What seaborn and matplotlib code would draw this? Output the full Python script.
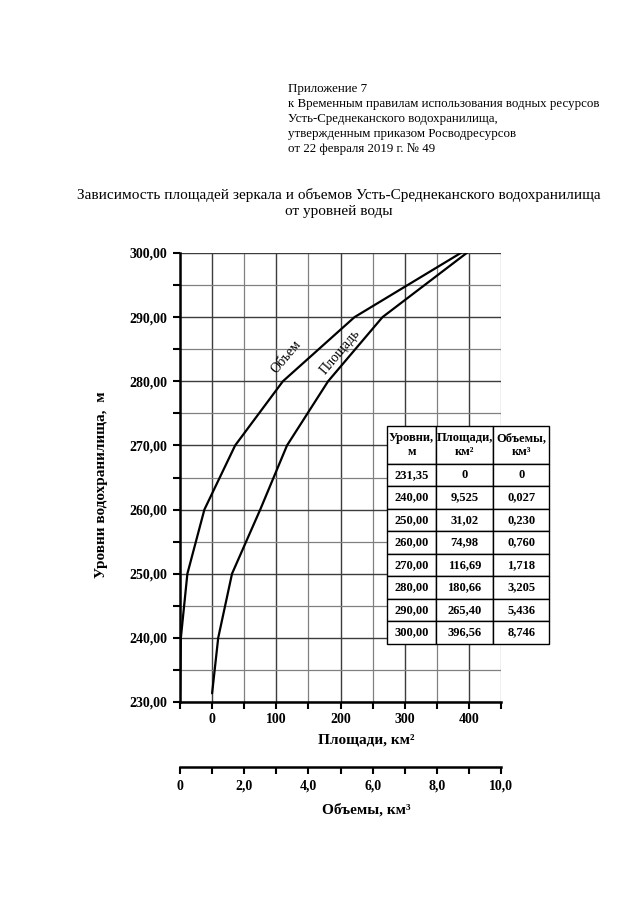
import numpy as np
import pandas as pd
import matplotlib
matplotlib.use('Agg')
import matplotlib.pyplot as plt
from matplotlib.ticker import MultipleLocator, FuncFormatter
import seaborn as sns

# ---- data ----
levels = [231.35, 240.00, 250.00, 260.00, 270.00, 280.00, 290.00, 300.00]
area = [0, 9.525, 31.02, 74.98, 116.69, 180.66, 265.40, 396.56]
volume = [0, 0.027, 0.230, 0.760, 1.718, 3.205, 5.436, 8.746]

level_txt = ['231,35', '240,00', '250,00', '260,00', '270,00', '280,00', '290,00', '300,00']
area_txt = ['0', '9,525', '31,02', '74,98', '116,69', '180,66', '265,40', '396,56']
volume_txt = ['0', '0,027', '0,230', '0,760', '1,718', '3,205', '5,436', '8,746']
col_labels = ['Уровни,\nм', 'Площади,\nкм²', 'Объемы,\nкм³']

df = pd.DataFrame({'level': levels, 'area': area, 'volume': volume})

sns.set_theme(style='white')
plt.rcParams['font.family'] = ['Liberation Serif', 'DejaVu Serif']
plt.rcParams['text.color'] = 'black'
plt.rcParams['axes.labelcolor'] = 'black'
plt.rcParams['xtick.color'] = 'black'
plt.rcParams['ytick.color'] = 'black'

fig = plt.figure(figsize=(6.4, 9.05), dpi=100)
ax = fig.add_axes([180 / 640, 203 / 905, 321 / 640, 449 / 905])

# ---- curves ----
sns.lineplot(data=df, x='area', y='level', ax=ax, sort=False, estimator=None,
             color='black', linewidth=1.6, zorder=3)
ax2 = ax.twiny()
sns.lineplot(data=df, x='volume', y='level', ax=ax2, sort=False, estimator=None,
             color='black', linewidth=1.6, zorder=3)

ax.set_xlim(-50, 450)
ax.set_ylim(230, 300)
ax2.set_xlim(0, 10)

# ---- area axis + grid ----
ax.xaxis.set_major_locator(MultipleLocator(100))
ax.xaxis.set_minor_locator(MultipleLocator(50))
ax.yaxis.set_major_locator(MultipleLocator(10))
ax.yaxis.set_minor_locator(MultipleLocator(5))
ax.yaxis.set_major_formatter(FuncFormatter(lambda v, p: f'{v:.2f}'.replace('.', ',')))
ax.grid(which='major', color='#3c3c3c', linewidth=1.0)
ax.grid(which='minor', color='#808080', linewidth=0.9)
ax.set_axisbelow(True)
ax.tick_params(which='both', direction='out', length=5, width=1.5, color='black',
               bottom=True, left=True)
ax.tick_params(axis='x', labelsize=10, pad=3)
ax.tick_params(axis='y', labelsize=10, pad=4)
for lab in ax.get_xticklabels() + ax.get_yticklabels():
    lab.set_fontweight('bold')
for s in ['top', 'right']:
    ax.spines[s].set_visible(False)
for s in ['left', 'bottom']:
    ax.spines[s].set_linewidth(1.8)
    ax.spines[s].set_color('black')
ax.set_xlabel('Площади, км²', fontsize=11, fontweight='bold')
ax.xaxis.set_label_coords(0.58, -0.07)
ax.set_ylabel('Уровни водохранилища,  м', fontsize=11, fontweight='bold')
ax.yaxis.set_label_coords(-0.225, 0.485)

# ---- volume axis ----
for s in ['top', 'right', 'left']:
    ax2.spines[s].set_visible(False)
ax2.spines['bottom'].set_visible(True)
ax2.spines['bottom'].set_position(('outward', 47))
ax2.spines['bottom'].set_linewidth(1.8)
ax2.spines['bottom'].set_color('black')
ax2.xaxis.set_ticks_position('bottom')
ax2.xaxis.set_label_position('bottom')
ax2.xaxis.set_major_locator(MultipleLocator(2))
ax2.xaxis.set_minor_locator(MultipleLocator(1))
ax2.xaxis.set_major_formatter(FuncFormatter(lambda v, p: '0' if v == 0 else f'{v:.1f}'.replace('.', ',')))
ax2.tick_params(which='both', direction='out', length=5, width=1.5, color='black', bottom=True, top=False)
ax2.tick_params(axis='x', labelsize=10, pad=4)
for lab in ax2.get_xticklabels():
    lab.set_fontweight('bold')
ax2.grid(False)
ax2.set_xlabel('Объемы, км³', fontsize=11, fontweight='bold')
ax2.xaxis.set_label_coords(0.58, -0.225)

# ---- curve labels ----
ax.text(116, 283.8, 'Объем', rotation=50, fontsize=10, ha='center', va='center')
ax.text(199, 284.6, 'Площадь', rotation=50, fontsize=10, ha='center', va='center')

# ---- table ----
rows = [[a, b, c] for a, b, c in zip(level_txt, area_txt, volume_txt)]
tab = ax.table(cellText=rows, colLabels=col_labels, cellLoc='center',
               bbox=[0.645, 0.13, 0.505, 0.485], zorder=5)
tab.auto_set_font_size(False)
tab.set_fontsize(9)
widths = [49, 57, 56]
for (r, c), cell in tab.get_celld().items():
    cell.set_edgecolor('black')
    cell.set_linewidth(1.0)
    cell.set_facecolor('white')
    cell.set_width(widths[c])
    cell.set_height(38 if r == 0 else 22.5)
    cell.get_text().set_fontweight('bold')

# ---- header text ----
fig.text(288 / 640, 1 - 83 / 905,
         'Приложение 7\nк Временным правилам использования водных ресурсов\n'
         'Усть-Среднеканского водохранилища,\nутвержденным приказом Росводресурсов\n'
         'от 22 февраля 2019 г. № 49',
         ha='left', va='top', fontsize=9.3, linespacing=1.33)
fig.text(339 / 640, 1 - 188 / 905,
         'Зависимость площадей зеркала и объемов Усть-Среднеканского водохранилища\nот уровней воды',
         ha='center', va='top', fontsize=11, linespacing=1.3)

fig.savefig('out.png', dpi=100, facecolor='white')
